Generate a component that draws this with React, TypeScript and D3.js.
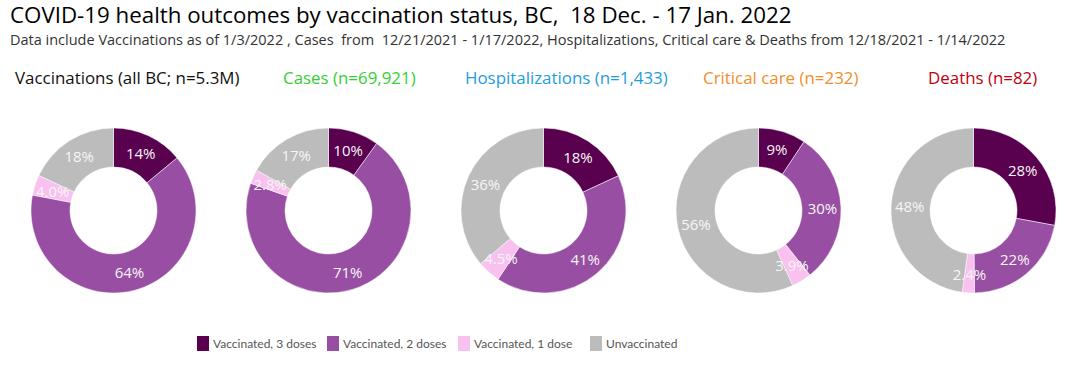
import React from "react";
import * as d3 from "d3";

const categories = ["Vaccinated, 3 doses", "Vaccinated, 2 doses", "Vaccinated, 1 dose", "Unvaccinated"];
const colors = ["#59004f", "#984ea3", "#f8c1ef", "#bcbcbc"];

const panelTitles = [
  "Vaccinations (all BC; n=5.3M)",
  "Cases (n=69,921)",
  "Hospitalizations (n=1,433)",
  "Critical care (n=232)",
  "Deaths (n=82)",
];
const panelTitleColors = ["#111111", "#33d033", "#1b9de2", "#f28e2b", "#c00010"];

const vaccinationsValues = [14, 64, 4.0, 18];
const casesValues = [10, 71, 2.8, 17];
const hospitalizationsValues = [18, 41, 4.5, 36];
const criticalCareValues = [9.3, 30, 3.9, 56.8];
const deathsValues = [28, 22, 2.4, 48];

const vaccinationsLabels = ["14%", "64%", "4.0%", "18%"];
const casesLabels = ["10%", "71%", "2.8%", "17%"];
const hospitalizationsLabels = ["18%", "41%", "4.5%", "36%"];
const criticalCareLabels = ["9%", "30%", "3.9%", "56%"];
const deathsLabels = ["28%", "22%", "2.4%", "48%"];

const panelValues = [vaccinationsValues, casesValues, hospitalizationsValues, criticalCareValues, deathsValues];
const panelLabels = [vaccinationsLabels, casesLabels, hospitalizationsLabels, criticalCareLabels, deathsLabels];

const W = 1075;
const H = 367;
const FONT = "'Open Sans', 'Noto Sans', sans-serif";
const NARROW = "Lato, 'Open Sans', sans-serif";

export default function App() {
  const centerX = d3.scaleLinear().domain([0, 4]).range([113.5, 973.5]);
  const centerY = 210.5;
  const outerR = 82.5;
  const innerR = 43.5;
  const labelR = 64;
  const titleX = [15, 283, 465, 703, 928];
  const legendX = [197, 327, 458, 590];

  const pie = d3.pie<number>().sort(null).value((d) => d);
  const arc = d3.arc<d3.PieArcDatum<number>>().innerRadius(innerR).outerRadius(outerR);
  const labelArc = d3.arc<d3.PieArcDatum<number>>().innerRadius(labelR).outerRadius(labelR);

  return (
    <svg width={W} height={H} style={{ position: "absolute", left: 0, top: 0, background: "#fff" }} fontFamily={FONT}>
      <text x={10} y={23} fontSize={22.3} fill="#000">
        COVID-19 health outcomes by vaccination status, BC,{"\u00a0\u00a0"}18 Dec. - 17 Jan. 2022
      </text>
      <text x={10} y={45} fontSize={14.5} fill="#333">
        Data include Vaccinations as of 1/3/2022 , Cases{"\u00a0\u00a0"}from{"\u00a0\u00a0"}12/21/2021 - 1/17/2022, Hospitalizations, Critical care &amp; Deaths from 12/18/2021 - 1/14/2022
      </text>
      {panelTitles.map((t, i) => (
        <text key={t} x={titleX[i]} y={84} fontSize={16.9} fill={panelTitleColors[i]}>
          {t}
        </text>
      ))}
      {panelValues.map((vals, i) => {
        const arcs = pie(vals);
        return (
          <g key={i} transform={`translate(${centerX(i)},${centerY})`}>
            {arcs.map((a, j) => (
              <path key={j} d={arc(a) || ""} fill={colors[j]} stroke="#fff" strokeWidth={0.5} />
            ))}
            {arcs.map((a, j) => {
              const [lx, ly] = labelArc.centroid(a);
              return (
                <text
                  key={"l" + j}
                  x={lx}
                  y={ly}
                  textAnchor="middle"
                  dominantBaseline="central"
                  fontSize={15}
                  fill="#f6f6f6"
                >
                  {panelLabels[i][j]}
                </text>
              );
            })}
          </g>
        );
      })}
      {categories.map((c, i) => (
        <g key={c} transform={`translate(${legendX[i]},336)`}>
          <rect x={0} y={0} width={12} height={15} fill={colors[i]} />
          <text x={16} y={7.5} dominantBaseline="central" fontSize={12} fontFamily={NARROW} fill="#555">
            {c}
          </text>
        </g>
      ))}
    </svg>
  );
}
